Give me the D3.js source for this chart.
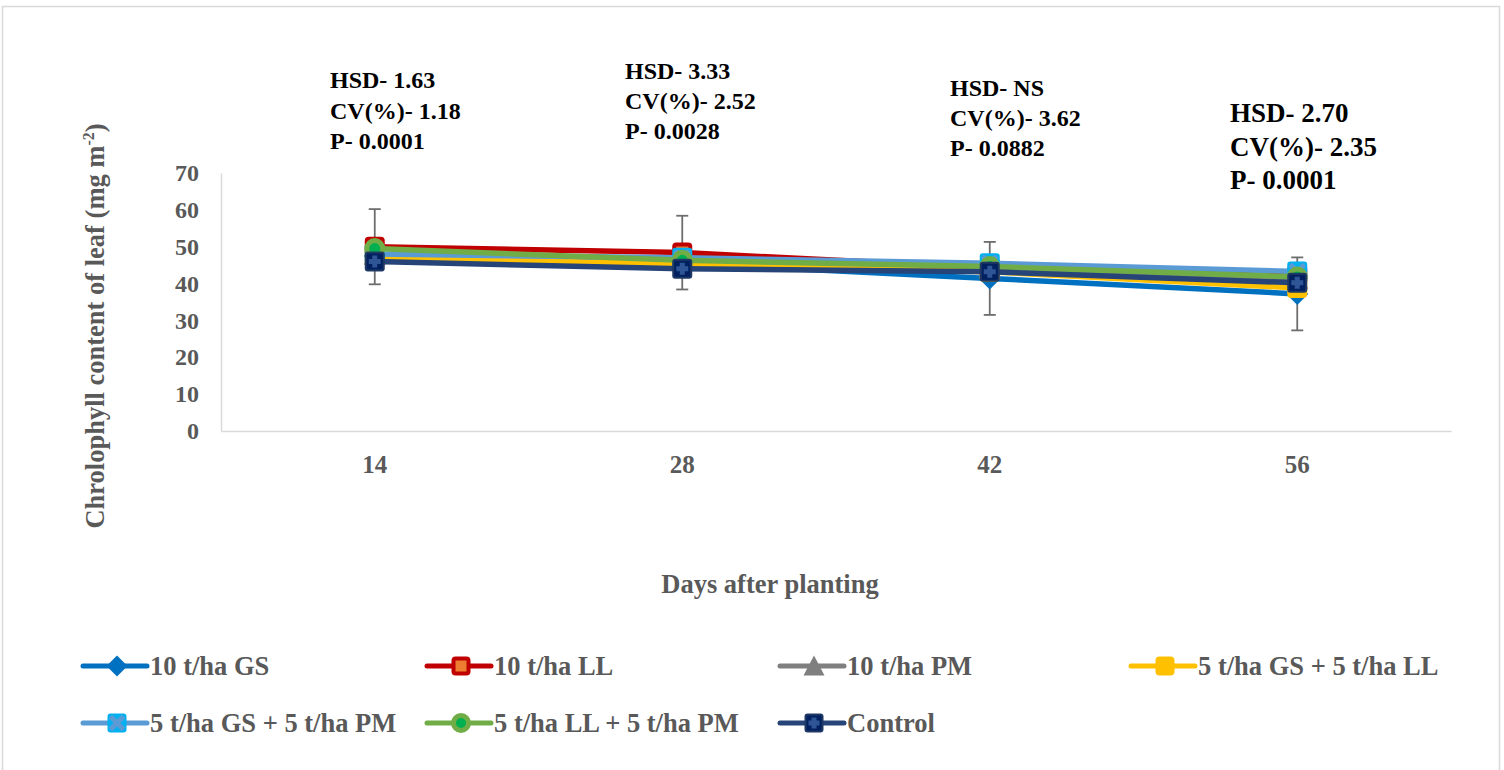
<!DOCTYPE html>
<html>
<head>
<meta charset="utf-8">
<script src="https://cdn.jsdelivr.net/npm/d3@7"></script>
<style>
  body { margin: 0; background: #fff; }
  svg { display: block; }
  text { font-family: "Liberation Serif", "Times New Roman", serif; font-weight: bold; }
</style>
</head>
<body>
<svg id="chart" width="1504" height="770"></svg>
<script>
// ---------- data ----------
const days = ["14", "28", "42", "56"];
const seriesNames = ["10 t/ha GS", "10 t/ha LL", "10 t/ha PM", "5 t/ha GS + 5 t/ha LL",
                     "5 t/ha GS + 5 t/ha PM", "5 t/ha LL + 5 t/ha PM", "Control"];
const valGS     = [47.5, 45.5, 41.4, 37.2];
const valLL     = [50.0, 48.4, 44.3, 42.3];
const valPM     = [47.8, 46.3, 44.0, 41.3];
const valGSLL   = [47.0, 45.3, 43.2, 38.8];
const valGSPM   = [48.0, 47.0, 45.5, 43.3];
const valLLPM   = [49.5, 46.3, 44.6, 41.8];
const valControl= [46.0, 44.0, 43.2, 40.2];
const errGS     = [null, null, 9.9, 9.9];
const errLL     = [10.2, 10.0, null, null];
const yTicks    = [0, 10, 20, 30, 40, 50, 60, 70];
const hsd = ["1.63", "3.33", "NS", "2.70"];
const cv  = ["1.18", "2.52", "3.62", "2.35"];
const pv  = ["0.0001", "0.0028", "0.0882", "0.0001"];

const seriesValues = [valGS, valLL, valPM, valGSLL, valGSPM, valLLPM, valControl];
const seriesErrors = [errGS, errLL, null, null, null, null, null];

// ---------- styles ----------
const styles = [
  { line: "#0070C0", marker: "diamond", fill: "#0070C0", stroke: "#0070C0" },
  { line: "#C00000", marker: "square",  fill: "#ED7D31", stroke: "#C00000" },
  { line: "#7F7F7F", marker: "triangle",fill: "#7F7F7F", stroke: "#7F7F7F" },
  { line: "#FFC000", marker: "square",  fill: "#FFC000", stroke: "#FFC000" },
  { line: "#5B9BD5", marker: "xsquare", fill: "#00B0F0", stroke: "#00B0F0" },
  { line: "#70AD47", marker: "circle",  fill: "#00B050", stroke: "#70AD47" },
  { line: "#264478", marker: "plus",    fill: "#002060", stroke: "#1F3864" }
];

const svg = d3.select("#chart");
const plot = { left: 221, right: 1451, top: 173, bottom: 431 };

// outer border
svg.append("rect").attr("x", 2.5).attr("y", 6.5).attr("width", 1497).attr("height", 800)
  .attr("fill", "none").attr("stroke", "#d9d9d9").attr("stroke-width", 1.5);

const x = d3.scaleBand().domain(days).range([plot.left, plot.right]).padding(0);
const y = d3.scaleLinear().domain([0, 70]).range([plot.bottom, plot.top]);
const cx = d => x(d) + x.bandwidth() / 2;

// axes
const yAxis = d3.axisLeft(y).tickValues(yTicks).tickSize(0).tickPadding(22);
const gy = svg.append("g").attr("transform", `translate(${plot.left},0)`).call(yAxis);
gy.select(".domain").attr("stroke", "#d9d9d9").attr("stroke-width", 1.5);
gy.selectAll("text").attr("font-size", 24).attr("fill", "#595959")
  .attr("font-family", "Liberation Serif").attr("font-weight", "bold");

const xAxis = d3.axisBottom(x).tickSize(0).tickPadding(24);
const gx = svg.append("g").attr("transform", `translate(0,${plot.bottom})`).call(xAxis);
gx.select(".domain").attr("stroke", "#d9d9d9").attr("stroke-width", 1.5);
gx.selectAll("text").attr("font-size", 25).attr("fill", "#595959")
  .attr("font-family", "Liberation Serif").attr("font-weight", "bold");

// axis titles
const yt = svg.append("text")
  .attr("transform", `translate(104,326) rotate(-90)`)
  .attr("text-anchor", "middle").attr("font-size", 26.5).attr("fill", "#595959");
yt.append("tspan").text("Chrolophyll content of leaf (mg m");
yt.append("tspan").text("-2").attr("font-size", 16).attr("dy", -10);
yt.append("tspan").text(")").attr("dy", 10);

svg.append("text").attr("x", 770).attr("y", 593).attr("text-anchor", "middle")
  .attr("font-size", 26.5).attr("fill", "#595959").text("Days after planting");

// ---------- markers ----------
function drawMarker(g, type, st, px, py, s) {
  const h = s / 2;
  if (type === "diamond") {
    g.append("path").attr("d", `M${px},${py - h - 1}L${px + h + 1},${py}L${px},${py + h + 1}L${px - h - 1},${py}Z`)
      .attr("fill", st.fill);
  } else if (type === "square") {
    g.append("rect").attr("x", px - h + 2).attr("y", py - h + 2).attr("width", s - 4).attr("height", s - 4)
      .attr("rx", 2).attr("fill", st.fill).attr("stroke", st.stroke).attr("stroke-width", 4);
  } else if (type === "triangle") {
    g.append("path").attr("d", `M${px},${py - h - 1}L${px + h + 1},${py + h}L${px - h - 1},${py + h}Z`)
      .attr("fill", st.fill);
  } else if (type === "xsquare") {
    g.append("rect").attr("x", px - h + 1).attr("y", py - h + 1).attr("width", s - 2).attr("height", s - 2)
      .attr("rx", 2).attr("fill", st.fill).attr("stroke", st.stroke).attr("stroke-width", 2);
    const k = h - 3;
    g.append("path").attr("d", `M${px - k},${py - k}L${px + k},${py + k}M${px + k},${py - k}L${px - k},${py + k}`)
      .attr("stroke", "#5B9BD5").attr("stroke-width", 5);
  } else if (type === "circle") {
    g.append("circle").attr("cx", px).attr("cy", py).attr("r", h - 2)
      .attr("fill", st.fill).attr("stroke", st.stroke).attr("stroke-width", 5);
  } else if (type === "plus") {
    g.append("rect").attr("x", px - h + 1).attr("y", py - h + 1).attr("width", s - 2).attr("height", s - 2)
      .attr("rx", 2).attr("fill", st.fill).attr("stroke", st.stroke).attr("stroke-width", 2);
    const k = h - 4;
    g.append("path").attr("d", `M${px - k},${py}L${px + k},${py}M${px},${py - k}L${px},${py + k}`)
      .attr("stroke", "#2F5597").attr("stroke-width", 5);
  }
}

// error bars
const errG = svg.append("g");
seriesValues.forEach((vals, i) => {
  const errs = seriesErrors[i];
  if (!errs) return;
  days.forEach((d, j) => {
    if (errs[j] == null) return;
    const px = cx(d), lo = y(vals[j] - errs[j]), hi = y(vals[j] + errs[j]);
    errG.append("line").attr("x1", px).attr("x2", px).attr("y1", lo).attr("y2", hi)
      .attr("stroke", "#6d6d6d").attr("stroke-width", 1.8);
    [lo, hi].forEach(yy => errG.append("line").attr("x1", px - 6).attr("x2", px + 6)
      .attr("y1", yy).attr("y2", yy).attr("stroke", "#6d6d6d").attr("stroke-width", 1.8));
  });
});

// series lines + markers
const lineGen = d3.line().x((v, j) => cx(days[j])).y(v => y(v));
seriesValues.forEach((vals, i) => {
  const g = svg.append("g");
  g.append("path").attr("d", lineGen(vals)).attr("fill", "none")
    .attr("stroke", styles[i].line).attr("stroke-width", 5.5).attr("stroke-linejoin", "round");
  vals.forEach((v, j) => drawMarker(g, styles[i].marker, styles[i], cx(days[j]), y(v), 20));
});

// ---------- annotations ----------
const annPos = [
  { x: 330, y: 88, fs: 24, lh: 30.5 },
  { x: 625, y: 79, fs: 24, lh: 30 },
  { x: 950, y: 96, fs: 24, lh: 30 },
  { x: 1230, y: 122, fs: 27, lh: 33.5 }
];
days.forEach((d, j) => {
  const p = annPos[j];
  const lines = [`HSD- ${hsd[j]}`, `CV(%)- ${cv[j]}`, `P- ${pv[j]}`];
  lines.forEach((t, k) => svg.append("text").attr("x", p.x).attr("y", p.y + k * p.lh)
    .attr("font-size", p.fs).attr("fill", "#000").text(t));
});

// ---------- legend ----------
const legCols = [83, 427, 780, 1131];
const legRows = [666, 723];
seriesNames.forEach((name, i) => {
  const col = i % 4, row = Math.floor(i / 4);
  const lx = legCols[col], ly = legRows[row];
  const g = svg.append("g");
  g.append("line").attr("x1", lx).attr("x2", lx + 64).attr("y1", ly).attr("y2", ly)
    .attr("stroke", styles[i].line).attr("stroke-width", 5).attr("stroke-linecap", "round");
  drawMarker(g, styles[i].marker, styles[i], lx + 34, ly, 19);
  g.append("text").attr("x", lx + 67).attr("y", ly + 9).attr("font-size", 26.5)
    .attr("fill", "#595959").text(name);
});
</script>
</body>
</html>
